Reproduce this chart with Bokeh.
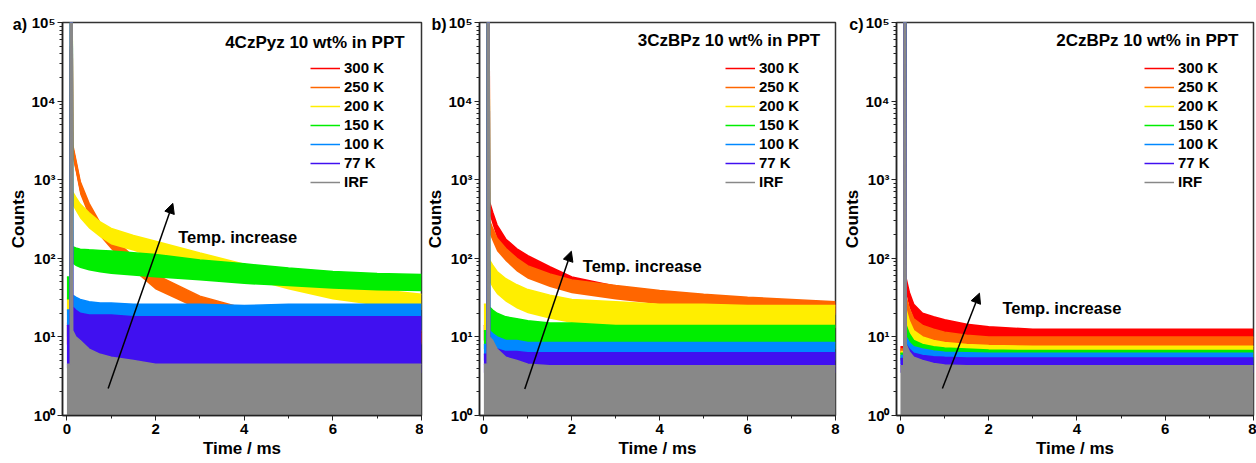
from bokeh.plotting import figure
from bokeh.models import Legend, LegendItem, Label, Arrow, NormalHead, FixedTicker, Range1d
from bokeh.layouts import row
from bokeh.embed import file_html
from bokeh.resources import INLINE

FONT = "Liberation Sans"

# time grid (ms) shared by all traces
T = [0.0, 0.075, 0.08, 0.12, 0.13, 0.2, 0.3, 0.5, 0.75, 1.0, 1.5, 2.0, 3.0, 4.0, 5.0, 6.0, 7.0, 8.0]

labels = ["300 K", "250 K", "200 K", "150 K", "100 K", "77 K", "IRF"]
colors = ["#FF0000", "#FF6600", "#FFEE00", "#00EE00", "#0088FF", "#4010F0", "#888888"]

# ---- panel a: 4CzPyz (lower / upper envelope of the noisy counts) ----
a_300_lo = [8, 8, 8, 8, 2000, 1300, 680, 360, 200, 140, 75, 43, 24, 16, 12, 10.5, 9.5, 8.5]
a_300_hi = [14, 14, 45000, 45000, 2600, 1700, 900, 470, 265, 180, 100, 58, 31, 21, 16, 14, 12, 11]
a_250_lo = [8, 8, 8, 8, 1900, 1250, 650, 340, 190, 130, 70, 40, 22, 15, 11, 10, 9, 8]
a_250_hi = [15, 15, 50000, 50000, 2800, 1800, 950, 500, 280, 190, 105, 62, 33, 23, 17, 15, 13, 12]
a_200_lo = [19, 19, 19, 19, 470, 400, 320, 240, 185, 150, 125, 100, 75, 57, 40, 30, 25, 22]
a_200_hi = [31, 31, 100000, 100000, 700, 600, 490, 380, 290, 240, 195, 165, 117, 84, 60, 48, 40, 35]
a_150_lo = [30, 30, 30, 30, 85, 80, 75, 70, 66, 63, 60, 57, 52, 47, 44, 41, 39, 38]
a_150_hi = [58, 58, 100000, 100000, 140, 135, 130, 128, 126, 124, 118, 112, 95, 85, 75, 68, 64, 62]
a_100_lo = [10, 10, 10, 10, 13, 13, 12, 12, 12, 12, 12, 12, 12, 12, 12, 12, 12, 12]
a_100_hi = [22, 22, 100000, 100000, 34, 32, 30, 28, 27, 27, 26, 26, 26, 25, 26, 26, 26, 26]
a_77_lo = [4, 4, 4, 4, 4, 4, 4, 3.5, 3.5, 3.5, 3.5, 3.5, 3.5, 3.5, 3.5, 3.5, 3.5, 3.5]
a_77_hi = [14, 14, 100000, 100000, 24, 22, 20, 19, 19, 19, 18, 18, 18, 18, 18, 18, 18, 18]
a_irf_lo = [1, 1, 1, 1, 1, 1, 1, 1, 1, 1, 1, 1, 1, 1, 1, 1, 1, 1]
a_irf_hi = [4.5, 4.5, 100000, 100000, 12, 10, 9, 7, 6, 5.5, 5, 4.5, 4.5, 4.5, 4.5, 4.5, 4.5, 4.5]

# ---- panel b: 3CzBPz ----
b_300_lo = [9, 9, 9, 9, 360, 265, 180, 120, 92, 75, 54, 42, 31, 27, 24, 22, 21, 20]
b_300_hi = [14, 14, 100000, 100000, 520, 385, 265, 175, 132, 108, 78, 58, 44, 37, 32, 29, 27, 26]
b_250_lo = [9, 9, 9, 9, 205, 165, 123, 92, 68, 55, 43, 36, 30, 26, 24, 22, 20, 19]
b_250_hi = [14, 14, 100000, 100000, 300, 240, 180, 133, 100, 80, 63, 53, 45, 39, 35, 32, 30, 28]
b_200_lo = [12, 12, 12, 12, 50, 42, 35, 28, 23, 20, 17, 15, 14, 13, 13, 13, 13, 13]
b_200_hi = [26, 26, 100000, 100000, 95, 82, 68, 55, 46, 40, 34, 30, 28, 26, 26, 25, 25, 25]
b_150_lo = [7, 7, 7, 7, 10, 9.5, 9, 8.5, 8, 8, 7.5, 7.5, 7, 7, 7, 7, 7, 7]
b_150_hi = [12, 12, 100000, 100000, 24, 22, 20, 18, 17, 16, 15, 15, 14, 14, 14, 14, 14, 14]
b_100_lo = [5, 5, 5, 5, 5.5, 5.5, 5, 5, 5, 5, 5, 5, 5, 5, 5, 5, 5, 5]
b_100_hi = [8, 8, 100000, 100000, 12, 11, 10, 9, 9, 8.5, 8.5, 8.5, 8.5, 8.5, 8.5, 8.5, 8.5, 8.5]
b_77_lo = [3.5, 3.5, 3.5, 3.5, 3.5, 3.5, 3.5, 3.5, 3.5, 3.5, 3.5, 3.5, 3.5, 3.5, 3.5, 3.5, 3.5, 3.5]
b_77_hi = [6, 6, 100000, 100000, 9, 8, 7, 6.5, 6.5, 6.3, 6.3, 6.3, 6.3, 6.3, 6.3, 6.3, 6.3, 6.3]
b_irf_lo = [1, 1, 1, 1, 1, 1, 1, 1, 1, 1, 1, 1, 1, 1, 1, 1, 1, 1]
b_irf_hi = [4.5, 4.5, 100000, 100000, 10, 9, 7, 5.5, 5, 4.5, 4.3, 4.3, 4.3, 4.3, 4.3, 4.3, 4.3, 4.3]

# ---- panel c: 2CzBPz ----
c_300_lo = [6, 6, 6, 6, 36, 24, 17, 13, 12, 11, 9.5, 9, 8, 8, 8, 8, 8, 8]
c_300_hi = [7.5, 7.5, 100000, 100000, 55, 37, 26, 20, 18, 16.5, 14.5, 13.5, 12.5, 12.5, 12.5, 12.5, 12.5, 12.5]
c_250_lo = [6, 6, 6, 6, 22, 16, 12, 9.5, 8.5, 8, 7.2, 7, 6.8, 6.8, 6.8, 6.8, 6.8, 6.8]
c_250_hi = [7, 7, 100000, 100000, 32, 23, 17, 14, 12.5, 11.5, 10.5, 10, 10, 10, 10, 10, 10, 10]
c_200_lo = [5.5, 5.5, 5.5, 5.5, 13, 10, 8.5, 7, 6.5, 6, 5.8, 5.6, 5.5, 5.5, 5.5, 5.5, 5.5, 5.5]
c_200_hi = [6.5, 6.5, 100000, 100000, 22, 16, 12, 10, 9, 8.5, 8, 7.8, 7.6, 7.6, 7.6, 7.6, 7.6, 7.6]
c_150_lo = [5, 5, 5, 5, 8, 7, 6, 5.5, 5.2, 5, 5, 5, 5, 5, 5, 5, 5, 5]
c_150_hi = [6.2, 6.2, 100000, 100000, 14, 11, 9, 8, 7.5, 7.2, 7, 6.8, 6.7, 6.7, 6.7, 6.7, 6.7, 6.7]
c_100_lo = [4.5, 4.5, 4.5, 4.5, 6, 5.5, 5, 4.8, 4.6, 4.5, 4.5, 4.5, 4.5, 4.5, 4.5, 4.5, 4.5, 4.5]
c_100_hi = [5.8, 5.8, 100000, 100000, 10, 8.5, 7.5, 7, 6.6, 6.4, 6.3, 6.2, 6.2, 6.2, 6.2, 6.2, 6.2, 6.2]
c_77_lo = [3.5, 3.5, 3.5, 3.5, 3.5, 3.5, 3.5, 3.5, 3.5, 3.5, 3.5, 3.5, 3.5, 3.5, 3.5, 3.5, 3.5, 3.5]
c_77_hi = [5.3, 5.3, 100000, 100000, 8, 7, 6.2, 5.8, 5.6, 5.5, 5.4, 5.4, 5.4, 5.4, 5.4, 5.4, 5.4, 5.4]
c_irf_lo = [1, 1, 1, 1, 1, 1, 1, 1, 1, 1, 1, 1, 1, 1, 1, 1, 1, 1]
c_irf_hi = [4.3, 4.3, 100000, 100000, 8, 6.5, 5.5, 5, 4.6, 4.4, 4.3, 4.3, 4.3, 4.3, 4.3, 4.3, 4.3, 4.3]

x_ticks = [0, 2, 4, 6, 8]
x_minor = [1, 3, 5, 7]
y_ticks = [1, 10, 100, 1000, 10000, 100000]
y_tick_labels = ["10\u2070", "10\u00b9", "10\u00b2", "10\u00b3", "10\u2074", "10\u2075"]


def make_panel(width, left, right, x0, letter, letter_x, title, title_x, title_y,
               temp_x, temp_y, arr, legend_x, series):
    p = figure(width=width, height=463, y_axis_type="log",
               x_range=Range1d(x0, 8.0), y_range=Range1d(1, 100000),
               output_backend="svg", toolbar_location=None,
               min_border_left=left, min_border_right=right,
               min_border_top=22, min_border_bottom=48)
    p.grid.visible = False
    p.background_fill_color = "white"
    p.border_fill_color = "white"
    p.outline_line_color = "#333333"
    p.outline_line_width = 1.5

    items = []
    for (lo, hi, col), lab in zip(series, labels):
        p.varea(x=T, y1=lo, y2=hi, fill_color=col)
        r = p.line(x=T, y=hi, line_color=col, line_width=1.5)
        items.append(LegendItem(label=lab, renderers=[r]))
    leg = Legend(items=items, location=(legend_x, 225), glyph_width=30, glyph_height=14,
                 label_height=14, spacing=2, label_standoff=4, padding=0, margin=0,
                 border_line_color=None, background_fill_alpha=0,
                 label_text_font=FONT, label_text_font_style="bold",
                 label_text_font_size="15px", label_text_color="black")
    p.add_layout(leg)

    # axes
    for ax in (p.xaxis, p.yaxis):
        ax.axis_line_width = 1.5
        ax.axis_line_color = "#222222"
        ax.major_tick_in = 0
        ax.major_tick_out = 5
        ax.minor_tick_in = 0
        ax.minor_tick_out = 3
        ax.major_tick_line_color = "#222222"
        ax.minor_tick_line_color = "#222222"
        ax.major_label_text_font = FONT
        ax.major_label_text_font_style = "bold"
        ax.major_label_text_font_size = "15px"
        ax.major_label_text_color = "black"
        ax.axis_label_text_font = FONT
        ax.axis_label_text_font_style = "bold"
        ax.axis_label_text_font_size = "17px"
        ax.axis_label_text_color = "black"
    p.xaxis.ticker = FixedTicker(ticks=x_ticks, minor_ticks=x_minor)
    p.xaxis.axis_label = "Time / ms"
    p.xaxis.major_label_standoff = 3
    p.xaxis.axis_label_standoff = 2
    minor_y = [k * d for d in y_ticks[:-1] for k in range(2, 10)]
    p.yaxis.ticker = FixedTicker(ticks=y_ticks, minor_ticks=minor_y)
    p.yaxis.major_label_overrides = {v: s for v, s in zip(y_ticks, y_tick_labels)}
    p.yaxis.axis_label = "Counts"
    p.yaxis.major_label_standoff = 2
    p.yaxis.axis_label_standoff = 0

    # panel letter lives in the top side panel so it is not clipped to the frame
    p.add_layout(Label(x=letter_x, y=93000, text=letter, text_font=FONT,
                       text_font_style="bold", text_font_size="16px",
                       text_baseline="middle", text_align="left", text_color="black"),
                 "above")
    p.add_layout(Label(x=title_x, y=title_y, text=title, text_font=FONT,
                       text_font_style="bold", text_font_size="17px",
                       text_baseline="middle", text_align="right", text_color="black"))
    p.add_layout(Label(x=temp_x, y=temp_y, text="Temp. increase", text_font=FONT,
                       text_font_style="bold", text_font_size="16.5px",
                       text_baseline="middle", text_align="left", text_color="black"))
    p.add_layout(Arrow(x_start=arr[0], y_start=arr[1], x_end=arr[2], y_end=arr[3],
                       line_color="black", line_width=1.5,
                       end=NormalHead(size=10, fill_color="black", line_color="black")))
    return p


pa = make_panel(423, 62, 2, -0.1, "a)", -1.22, "4CzPyz 10 wt% in PPT", 7.62, 56000,
                2.51, 186, (0.93, 2.2, 2.39, 500), 248,
                [(a_300_lo, a_300_hi, colors[0]), (a_250_lo, a_250_hi, colors[1]),
                 (a_200_lo, a_200_hi, colors[2]), (a_150_lo, a_150_hi, colors[3]),
                 (a_100_lo, a_100_hi, colors[4]), (a_77_lo, a_77_hi, colors[5]),
                 (a_irf_lo, a_irf_hi, colors[6])])
pb = make_panel(417, 56, 5, -0.1, "b)", -1.19, "3CzBPz 10 wt% in PPT", 7.65, 59000,
                2.25, 79, (0.93, 2.17, 1.99, 123), 246,
                [(b_300_lo, b_300_hi, colors[0]), (b_250_lo, b_250_hi, colors[1]),
                 (b_200_lo, b_200_hi, colors[2]), (b_150_lo, b_150_hi, colors[3]),
                 (b_100_lo, b_100_hi, colors[4]), (b_77_lo, b_77_hi, colors[5]),
                 (b_irf_lo, b_irf_hi, colors[6])])
pc = make_panel(416, 53, 3, -0.09, "c)", -1.16, "2CzBPz 10 wt% in PPT", 7.66, 59000,
                2.31, 23, (0.95, 2.2, 1.79, 36), 248,
                [(c_300_lo, c_300_hi, colors[0]), (c_250_lo, c_250_hi, colors[1]),
                 (c_200_lo, c_200_hi, colors[2]), (c_150_lo, c_150_hi, colors[3]),
                 (c_100_lo, c_100_hi, colors[4]), (c_77_lo, c_77_hi, colors[5]),
                 (c_irf_lo, c_irf_hi, colors[6])])

layout = row(pa, pb, pc, spacing=0)
open("out.html", "w").write(file_html(layout, INLINE))
